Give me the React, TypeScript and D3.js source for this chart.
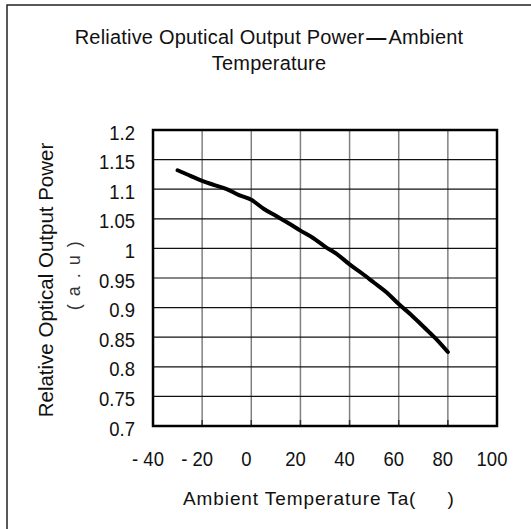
import React from 'react';
import * as d3 from 'd3';

// temperature (°C) vs relative optical output power (a.u)
const temps = [-30, -25, -20, -15, -10, -5, 0, 5, 10, 15, 20, 25, 30, 35, 40, 45, 50, 55, 60, 65, 70, 75, 80];
const power = [1.132, 1.123, 1.114, 1.107, 1.100, 1.090, 1.082, 1.067, 1.055, 1.043, 1.030, 1.018, 1.003, 0.990, 0.973, 0.958, 0.942, 0.926, 0.906, 0.888, 0.868, 0.848, 0.825];

const xTicks = [-40, -20, 0, 20, 40, 60, 80, 100];
const yTicks = [0.7, 0.75, 0.8, 0.85, 0.9, 0.95, 1, 1.05, 1.1, 1.15, 1.2];

const titleStart = 'Reliative Oputical Output Power';
const titleDash = '\u2014';
const titleEnd = 'Ambient';
const titleLine2 = 'Temperature';
const xTitle = 'Ambient Temperature Ta(\u2002\u2002\u2002)';
const yTitle = 'Relative Optical Output Power';
const yUnit = '( a . u )';

const W = 531;
const H = 529;
const margin = { top: 130, right: 34, bottom: 103, left: 153 };
const font = '"Liberation Sans", Arial, sans-serif';

const App = () => {
    const innerW = W - margin.left - margin.right;
    const innerH = H - margin.top - margin.bottom;

    const x = d3.scaleLinear().domain([-40, 100]).range([margin.left, margin.left + innerW]);
    const y = d3.scaleLinear().domain([0.7, 1.2]).range([margin.top + innerH, margin.top]);

    const line = d3.line<number>()
        .x((_, i) => x(temps[i]))
        .y(d => y(d))
        .curve(d3.curveMonotoneX);

    const fmtX = (d: number) => (d < 0 ? '- ' + Math.abs(d) : String(d));
    const bottom = y(0.7);

    return (
        <svg width={W} height={H} style={{ position: 'absolute', left: 0, top: 0, background: '#fff' }}>
            {/* outer frame, cut off at right and bottom */}
            <rect x={7} y={5} width={W + 20} height={H + 20} fill="#fff" stroke="#222" strokeWidth={1.5} />

            <text x={269} y={44} textAnchor="middle" fontFamily={font} fontSize={20} letterSpacing={0.2} fill="#111">
                {titleStart}
                <tspan fontWeight={700} dx={2}>{titleDash}</tspan>
                <tspan dx={2}>{titleEnd}</tspan>
            </text>
            <text x={269} y={70} textAnchor="middle" fontFamily={font} fontSize={20} letterSpacing={0.2} fill="#111">
                {titleLine2}
            </text>

            {/* vertical grid */}
            {xTicks.slice(1, -1).map(d => (
                <g key={'vx' + d}>
                    <line x1={x(d)} x2={x(d)} y1={y(1.2)} y2={bottom} stroke="#808080" strokeWidth={1.5} />
                    <line x1={x(d)} x2={x(d)} y1={bottom - 6} y2={bottom} stroke="#333" strokeWidth={1.5} />
                </g>
            ))}
            {/* horizontal grid */}
            {yTicks.slice(1, -1).map(d => (
                <line key={'hy' + d} x1={x(-40)} x2={x(100)} y1={y(d)} y2={y(d)} stroke="#111" strokeWidth={1.2} />
            ))}

            <rect x={x(-40)} y={y(1.2)} width={x(100) - x(-40)} height={bottom - y(1.2)} fill="none" stroke="#000" strokeWidth={2.5} />

            <path d={line(power) || ''} fill="none" stroke="#000" strokeWidth={4} strokeLinejoin="round" strokeLinecap="round" />

            {yTicks.map(d => (
                <text key={'yt' + d} transform={`translate(135,${y(d) + 9.5}) scale(1,1.12)`} textAnchor="end"
                    fontFamily={font} fontSize={18.5} fill="#111">
                    {String(d)}
                </text>
            ))}
            {xTicks.map(d => (
                <text key={'xt' + d} transform={`translate(${x(d) - 5},${bottom + 40}) scale(1,1.12)`} textAnchor="middle"
                    fontFamily={font} fontSize={18.5} fill="#111">
                    {fmtX(d)}
                </text>
            ))}

            <text x={183} y={505} fontFamily={font} fontSize={19} letterSpacing={0.9} fill="#111">{xTitle}</text>

            <text transform={`translate(53,280) rotate(-90)`} textAnchor="middle" fontFamily={font} fontSize={20.5} fill="#111">
                {yTitle}
            </text>
            <text transform={`translate(80,275) rotate(-90)`} textAnchor="middle" fontFamily={font} fontSize={18} letterSpacing={1.5} fill="#333">
                {yUnit}
            </text>
        </svg>
    );
};

export default App;
